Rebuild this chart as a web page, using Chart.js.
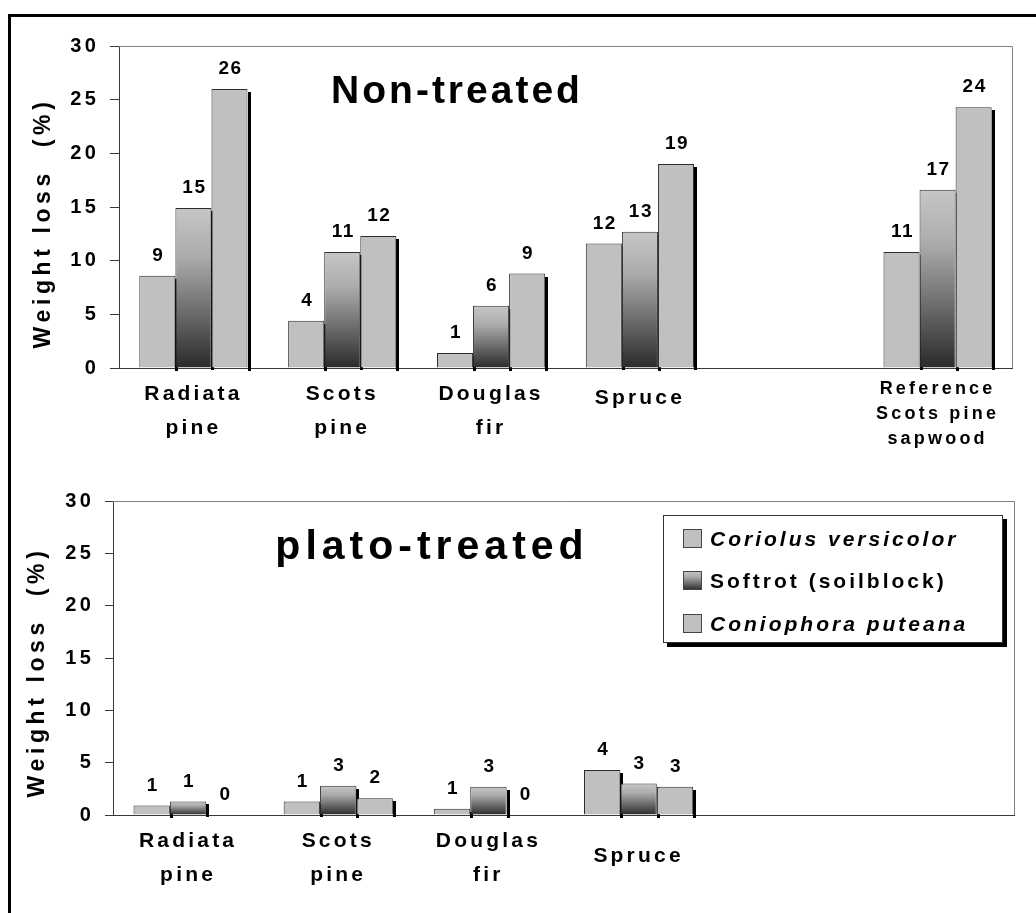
<!DOCTYPE html>
<html><head><meta charset="utf-8">
<script src="https://cdn.jsdelivr.net/npm/chart.js@4.4.1/dist/chart.umd.min.js"></script>
<style>
html,body{margin:0;padding:0;background:#fff;width:1036px;height:913px;overflow:hidden;}
#frame{position:absolute;left:8px;top:14px;width:1200px;height:1100px;border:3px solid #000;box-sizing:border-box;}
canvas{position:absolute;left:0;}
#c1{top:0px;}
#c2{top:470px;}
</style></head><body>
<div id="frame"></div>
<canvas id="c1" width="1036" height="470"></canvas>
<canvas id="c2" width="1036" height="443"></canvas>
<script>
// ---- data ----
const seriesNames = ["Coriolus versicolor", "Softrot (soilblock)", "Coniophora puteana"];
const categoriesTop = [["Radiata","pine"], ["Scots","pine"], ["Douglas","fir"], "Spruce", "", ["Reference","Scots pine","sapwood"]];
const categoriesBottom = [["Radiata","pine"], ["Scots","pine"], ["Douglas","fir"], "Spruce", "", ""];
const coriolusNonTreated = [8.6, 4.4, 1.4, 11.6, null, 10.8];
const softrotNonTreated  = [14.9, 10.8, 5.8, 12.7, null, 16.6];
const conioNonTreated    = [26.0, 12.3, 8.8, 19.0, null, 24.3];
const coriolusPlato = [0.9, 1.3, 0.6, 4.3, null, null];
const softrotPlato  = [1.3, 2.8, 2.7, 3.0, null, null];
const conioPlato    = [0.0, 1.6, 0.0, 2.7, null, null];
const yMin = 0, yMax = 30, yStep = 5;
const titleTop = "Non-treated";
const titleBottom = "plato-treated";
const yAxisTitle = "Weight loss  (%)";

// ---- styles ----
const FF = '"Liberation Sans", Arial, sans-serif';
const FILL = '#C0C0C0';
const EDGE = '#2e2e2e';
const AXIS = '#3a3a3a';
const FRAME = '#808080';

function makeGradient(c2d, y0, y1) {
  const g = c2d.createLinearGradient(0, y0, 0, y1);
  g.addColorStop(0, '#c6c6c6');
  g.addColorStop(0.3, '#acacac');
  g.addColorStop(0.65, '#6c6c6c');
  g.addColorStop(1, '#2a2a2a');
  return g;
}
function gradFill(ctx) {
  const chart = ctx.chart;
  if (!chart.chartArea || ctx.type !== 'data' || ctx.raw == null) return '#808080';
  const y = chart.scales.y;
  const top = y.getPixelForValue(ctx.raw), base = y.getPixelForValue(0);
  if (base - top < 1) return '#333';
  return makeGradient(chart.ctx, top, base);
}

const shadowPlugin = {
  id: 'shadows',
  beforeDatasetsDraw(chart) {
    const ctx = chart.ctx;
    ctx.save();
    ctx.fillStyle = '#000';
    const a = chart.chartArea;
    // plot frame (top & right)
    ctx.strokeStyle = FRAME; ctx.lineWidth = 1;
    ctx.beginPath();
    ctx.moveTo(a.left, Math.round(a.top) + 0.5);
    ctx.lineTo(Math.round(a.right) + 0.5, Math.round(a.top) + 0.5);
    ctx.lineTo(Math.round(a.right) + 0.5, Math.round(a.bottom));
    ctx.stroke();
    chart.data.datasets.forEach((ds, i) => {
      const meta = chart.getDatasetMeta(i);
      meta.data.forEach((el, j) => {
        if (ds.data[j] == null) return;
        const p = el.getProps(['x', 'y', 'base', 'width'], true);
        const h = Math.abs(p.base - p.y);
        if (h < 0.5) return;
        const right = Math.round(p.x + p.width / 2);
        ctx.fillRect(right, Math.round(Math.min(p.y, p.base)) + 3, 3, Math.round(h));
      });
    });
    ctx.restore();
  }
};

const labelPlugin = {
  id: 'valueLabels',
  beforeDraw(chart) { chart.ctx.letterSpacing = '3.2px'; },
  afterDatasetsDraw(chart) {
    const ctx = chart.ctx;
    ctx.save();
    ctx.font = 'bold 19px ' + FF;
    ctx.letterSpacing = '1.5px';
    ctx.textAlign = 'center';
    ctx.textBaseline = 'middle';
    ctx.fillStyle = '#000';
    chart.data.datasets.forEach((ds, i) => {
      const meta = chart.getDatasetMeta(i);
      meta.data.forEach((el, j) => {
        const v = ds.data[j];
        if (v == null) return;
        ctx.fillText(String(Math.round(v)), el.x + 1, el.y - 20);
      });
    });
    ctx.restore();
  },
  afterDraw(chart) {
    const o = chart.options.plugins.valueLabels;
    const ctx = chart.ctx;
    ctx.save();
    ctx.fillStyle = '#000';
    ctx.font = 'bold ' + o.titleSize + 'px ' + FF;
    ctx.letterSpacing = o.titleSpacing + 'px';
    ctx.textAlign = 'center';
    ctx.textBaseline = 'alphabetic';
    ctx.fillText(o.title, o.titleX, o.titleY);
    ctx.restore();
    ctx.save();
    ctx.translate(o.ytX, o.ytY);
    ctx.rotate(-Math.PI / 2);
    ctx.font = 'bold 23px ' + FF;
    ctx.letterSpacing = '4.6px';
    ctx.textAlign = 'center';
    ctx.textBaseline = 'middle';
    ctx.fillStyle = '#000';
    ctx.fillText(yAxisTitle, 0, 0);
    ctx.restore();
    if (o.legend) {
      const L = o.legend;
      ctx.save();
      ctx.fillStyle = '#000';
      ctx.fillRect(L.x + 4, L.y + 4, L.w, L.h);
      ctx.fillStyle = '#fff';
      ctx.fillRect(L.x, L.y, L.w, L.h);
      ctx.strokeStyle = '#333'; ctx.lineWidth = 1;
      ctx.strokeRect(L.x + 0.5, L.y + 0.5, L.w - 1, L.h - 1);
      seriesNames.forEach((name, i) => {
        const cy = L.rowY[i];
        const sx = L.x + 20, sy = cy - 9;
        ctx.fillStyle = i === 1 ? makeGradient(ctx, sy, sy + 19) : FILL;
        ctx.fillRect(sx, sy, 19, 19);
        ctx.strokeStyle = '#444';
        ctx.strokeRect(sx + 0.5, sy + 0.5, 18, 18);
        ctx.fillStyle = '#000';
        ctx.font = (L.italic[i] ? 'italic ' : '') + 'bold 21px ' + FF;
        ctx.letterSpacing = '3px';
        ctx.textAlign = 'left';
        ctx.textBaseline = 'alphabetic';
        ctx.fillText(name, L.x + 47, cy + 8);
      });
      ctx.restore();
    }
  }
};

function makeChart(id, cats, s1, s2, s3, o) {
  return new Chart(document.getElementById(id), {
    type: 'bar',
    data: {
      labels: cats,
      datasets: [
        { label: seriesNames[0], data: s1, backgroundColor: FILL, borderColor: EDGE, borderWidth: 1 },
        { label: seriesNames[1], data: s2, backgroundColor: gradFill, borderColor: EDGE, borderWidth: 1 },
        { label: seriesNames[2], data: s3, backgroundColor: FILL, borderColor: EDGE, borderWidth: 1 }
      ]
    },
    options: {
      responsive: false,
      animation: false,
      devicePixelRatio: 1,
      layout: { padding: { top: o.top, right: o.right, left: 0, bottom: 0 } },
      datasets: { bar: { categoryPercentage: 0.727, barPercentage: 1 } },
      plugins: {
        legend: { display: false },
        tooltip: { enabled: false },
        valueLabels: o.labels
      },
      scales: {
        x: {
          grid: { display: false, drawTicks: false },
          border: { display: true, color: AXIS, width: 1 },
          ticks: {
            color: '#000', padding: o.xPad, maxRotation: 0, autoSkip: false,
            font: (c) => {
              const lab = cats[c.index];
              if (Array.isArray(lab) && lab.length === 3) return { family: FF, weight: 'bold', size: 18, lineHeight: '25px' };
              if (!Array.isArray(lab)) return { family: FF, weight: 'bold', size: 21, lineHeight: o.singleLH + 'px' };
              return { family: FF, weight: 'bold', size: 21, lineHeight: '34px' };
            }
          },
          afterFit(s) { s.height = o.xh; }
        },
        y: {
          min: yMin, max: yMax,
          ticks: { stepSize: yStep, color: '#000', padding: 11, font: { family: FF, weight: 'bold', size: 20 } },
          grid: { display: true, drawOnChartArea: false, drawTicks: true, tickLength: o.tickLen, color: AXIS },
          border: { display: true, color: AXIS, width: 1 },
          afterFit(s) { s.width = o.yw; }
        }
      }
    },
    plugins: [shadowPlugin, labelPlugin]
  });
}

makeChart('c1', categoriesTop, coriolusNonTreated, softrotNonTreated, conioNonTreated,
  { top: 46, right: 24, yw: 119, xh: 102, xPad: 9, tickLen: 9, singleLH: 42,
    labels: { title: titleTop, titleSize: 39, titleSpacing: 3, titleX: 457, titleY: 103, ytX: 44, ytY: 223 } });

makeChart('c2', categoriesBottom, coriolusPlato, softrotPlato, conioPlato,
  { top: 31, right: 22, yw: 113, xh: 98, xPad: 9, tickLen: 8, singleLH: 64,
    labels: { title: titleBottom, titleSize: 41, titleSpacing: 5, titleX: 432, titleY: 89, ytX: 38, ytY: 202,
      legend: { x: 663, y: 45, w: 340, h: 128, rowY: [68, 110, 153], italic: [true, false, true] } } });
</script>
</body></html>
